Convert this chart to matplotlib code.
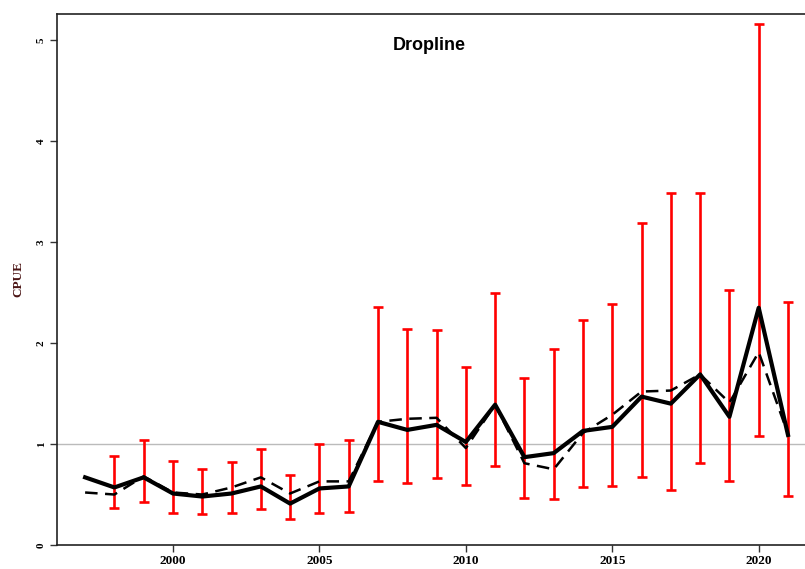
import matplotlib
matplotlib.use("Agg")
import matplotlib.pyplot as plt
import numpy as np

years = list(range(1997, 2022))
cpue_solid = [0.67, 0.57, 0.67, 0.51, 0.48, 0.51, 0.58, 0.41, 0.56, 0.58,
              1.22, 1.14, 1.19, 1.02, 1.39, 0.87, 0.91, 1.13, 1.17, 1.47,
              1.40, 1.69, 1.27, 2.35, 1.09]
cpue_dashed = [0.52, 0.50, 0.68, 0.52, 0.50, 0.57, 0.67, 0.51, 0.63, 0.63,
               1.22, 1.25, 1.26, 0.96, 1.39, 0.81, 0.75, 1.11, 1.29, 1.52,
               1.53, 1.69, 1.41, 1.91, 1.10]
err_years = list(range(1998, 2022))
err_upper = [0.88, 1.04, 0.83, 0.75, 0.82, 0.95, 0.69, 1.00, 1.04,
             2.36, 2.14, 2.13, 1.76, 2.50, 1.65, 1.94, 2.23, 2.39, 3.19,
             3.49, 3.49, 2.53, 5.16, 2.41]
err_lower = [0.37, 0.43, 0.32, 0.31, 0.32, 0.36, 0.26, 0.32, 0.33,
             0.63, 0.61, 0.66, 0.59, 0.78, 0.47, 0.46, 0.57, 0.58, 0.67,
             0.54, 0.81, 0.63, 1.08, 0.49]
x_ticks = [2000, 2005, 2010, 2015, 2020]
y_ticks = [0, 1, 2, 3, 4, 5]

fig = plt.figure(figsize=(8.05, 5.69), dpi=100)
ax = fig.add_axes([0.0708, 0.0422, 0.943, 0.9332])

ax.axhline(1, color="#bbbbbb", lw=1.0, zorder=1)

sol = dict(zip(years, cpue_solid))
mid = [sol[y] for y in err_years]
ax.errorbar(err_years, mid,
            yerr=[np.array(mid) - np.array(err_lower), np.array(err_upper) - np.array(mid)],
            fmt="none", ecolor="#ff0000", elinewidth=1.9, capsize=3.6, capthick=1.9, zorder=2)
ax.plot(years, cpue_dashed, color="black", lw=1.8, ls=(0, (5, 3)), zorder=3)
ax.plot(years, cpue_solid, color="black", lw=3.0, zorder=4)

ax.set_xlim(1996.04, 2021.96)
ax.set_ylim(0, 5.26)
ax.set_xticks(x_ticks)
ax.set_yticks(y_ticks)
ax.set_xticklabels([str(t) for t in x_ticks], fontfamily="Liberation Serif",
                   fontweight="bold", fontsize=9.5)
ax.set_yticklabels([str(t) for t in y_ticks], fontfamily="Liberation Serif",
                   fontweight="bold", fontsize=8, rotation=90, va="center")
ax.tick_params(axis="both", direction="out", length=5, width=1, color="#333333")
ax.tick_params(axis="x", pad=2)
ax.tick_params(axis="y", pad=3)
for s in ax.spines.values():
    s.set_linewidth(1.2)
    s.set_color("#222222")

ax.set_ylabel("CPUE", fontfamily="Liberation Serif", fontweight="bold",
              fontsize=9.5, color="#4b1414", labelpad=9)
ax.text(0.49, 0.94, "Dropline", transform=ax.transAxes, ha="center", va="center",
        fontfamily="Liberation Sans", fontweight="bold", fontsize=13)

fig.savefig("out.png", dpi=100)
